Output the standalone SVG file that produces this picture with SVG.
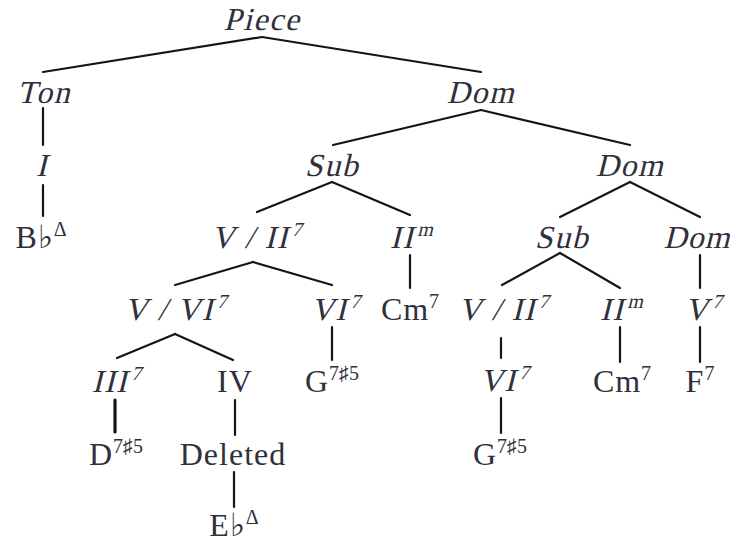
<svg xmlns="http://www.w3.org/2000/svg" width="737" height="542" viewBox="0 0 737 542">
<style>
text{font-family:"Liberation Serif","Times New Roman",serif;fill:#30303c;text-anchor:middle;font-size:32px;letter-spacing:1px}
.i{letter-spacing:1.5px}
.s{font-size:20px;letter-spacing:0}
#edges line{stroke:#151515;stroke-width:2.2;stroke-linecap:round}
</style>
<rect width="737" height="542" fill="#fff"/>
<g id="edges">
<line x1="262" y1="37" x2="43" y2="72"/>
<line x1="262" y1="37" x2="481" y2="72"/>
<line x1="43" y1="108" x2="43" y2="145"/>
<line x1="43" y1="185" x2="43" y2="216"/>
<line x1="481" y1="110" x2="333" y2="145"/>
<line x1="481" y1="110" x2="630" y2="145"/>
<line x1="332" y1="182" x2="257" y2="212"/>
<line x1="332" y1="182" x2="410" y2="215"/>
<line x1="630" y1="182" x2="560" y2="217"/>
<line x1="630" y1="182" x2="700" y2="217"/>
<line x1="253" y1="262" x2="175" y2="285"/>
<line x1="253" y1="262" x2="332" y2="285"/>
<line x1="410" y1="255" x2="410" y2="288"/>
<line x1="560" y1="253" x2="502" y2="285"/>
<line x1="560" y1="253" x2="620" y2="288"/>
<line x1="700" y1="255" x2="700" y2="288"/>
<line x1="175" y1="334" x2="117" y2="358"/>
<line x1="175" y1="334" x2="233" y2="360"/>
<line x1="332" y1="327" x2="332" y2="360"/>
<line x1="501" y1="338" x2="501" y2="358"/>
<line x1="620" y1="327" x2="620" y2="362"/>
<line x1="700" y1="327" x2="700" y2="362"/>
<line x1="115" y1="400" x2="115" y2="432" style="stroke-width:3.2"/>
<line x1="235" y1="400" x2="235" y2="435"/>
<line x1="501" y1="398" x2="501" y2="433"/>
<line x1="234" y1="472" x2="234" y2="507"/>
</g>
<g id="piece"><text class="i" transform="translate(262,30) skewX(-14)">Piece</text></g>
<g id="ton"><text class="i" transform="translate(44,103) skewX(-14)">Ton</text></g>
<g id="dom1"><text class="i" transform="translate(481,103) skewX(-14)">Dom</text></g>
<g id="i1"><text class="i" transform="translate(42,176) skewX(-14)">I</text></g>
<g id="bb"><text x="41" y="248">B♭<tspan class="s" dy="-12">Δ</tspan></text></g>
<g id="sub1"><text class="i" transform="translate(332,176) skewX(-14)">Sub</text></g>
<g id="dom2"><text class="i" transform="translate(630,176) skewX(-14)">Dom</text></g>
<g id="vii1"><text class="i" transform="translate(255,248) skewX(-14)">V / II<tspan class="s" dy="-12">7</tspan></text></g>
<g id="iim1"><text class="i" transform="translate(410,248) skewX(-14)">II<tspan class="s" dy="-12">m</tspan></text></g>
<g id="sub2"><text class="i" transform="translate(562,248) skewX(-14)">Sub</text></g>
<g id="dom3"><text class="i" style="letter-spacing:1px" transform="translate(697,248) skewX(-14)">Dom</text></g>
<g id="vvi"><text class="i" transform="translate(174,320) skewX(-14)">V / VI<tspan class="s" dy="-12">7</tspan></text></g>
<g id="vi1"><text class="i" transform="translate(334,320) skewX(-14)">VI<tspan class="s" dy="-12">7</tspan></text></g>
<g id="cm1"><text x="410" y="320">Cm<tspan class="s" dy="-12">7</tspan></text></g>
<g id="vii2"><text class="i" transform="translate(502,320) skewX(-14)">V / II<tspan class="s" dy="-12">7</tspan></text></g>
<g id="iim2"><text class="i" transform="translate(620,320) skewX(-14)">II<tspan class="s" dy="-12">m</tspan></text></g>
<g id="v7"><text class="i" transform="translate(702,320) skewX(-14)">V<tspan class="s" dy="-12">7</tspan></text></g>
<g id="iii7"><text class="i" transform="translate(115,392) skewX(-14)">III<tspan class="s" dy="-12">7</tspan></text></g>
<g id="iv"><text x="235" y="392">IV</text></g>
<g id="g1"><text x="332" y="392">G<tspan class="s" dy="-12">7♯5</tspan></text></g>
<g id="vi2"><text class="i" transform="translate(503,391) skewX(-14)">VI<tspan class="s" dy="-12">7</tspan></text></g>
<g id="cm2"><text x="622" y="392">Cm<tspan class="s" dy="-12">7</tspan></text></g>
<g id="f7"><text x="700" y="392">F<tspan class="s" dy="-12">7</tspan></text></g>
<g id="d7"><text x="116" y="465">D<tspan class="s" dy="-12">7♯5</tspan></text></g>
<g id="deleted"><text x="233" y="465">Deleted</text></g>
<g id="g2"><text x="500" y="465">G<tspan class="s" dy="-12">7♯5</tspan></text></g>
<g id="eb"><text x="234" y="536">E♭<tspan class="s" dy="-12">Δ</tspan></text></g>
</svg>
